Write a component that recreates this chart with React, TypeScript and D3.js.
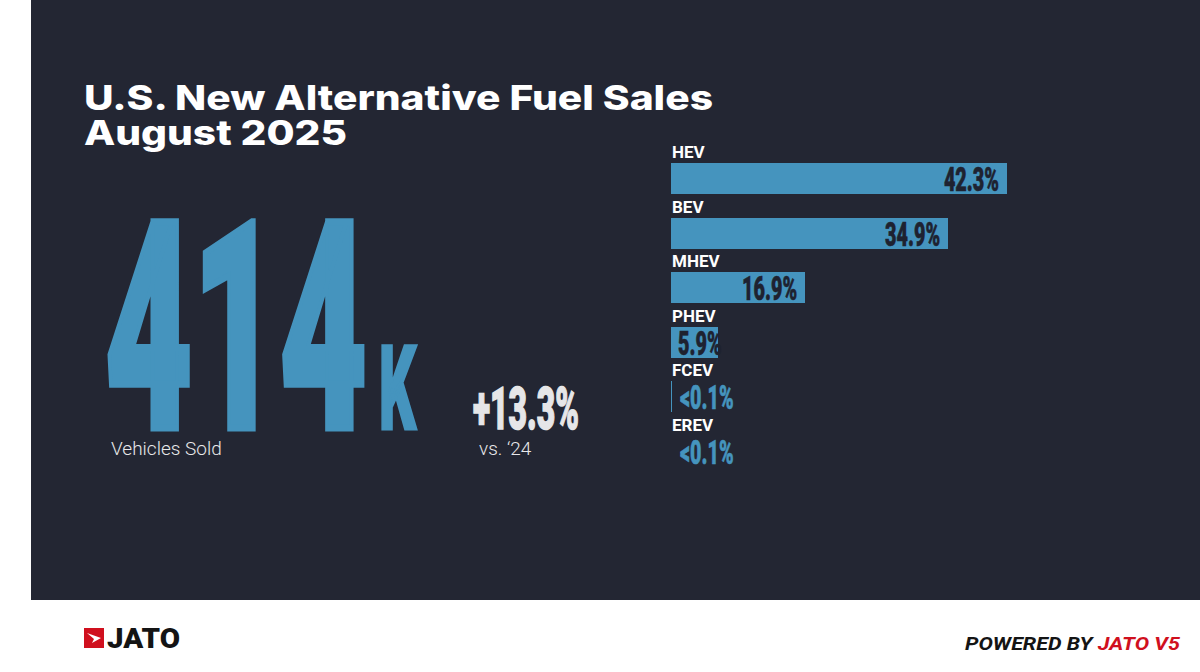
import React from 'react';
import * as d3 from 'd3';

// chart data
const categories = ['HEV', 'BEV', 'MHEV', 'PHEV', 'FCEV', 'EREV'];
const shares = [42.3, 34.9, 16.9, 5.9, 0.09, 0.01];
const shareLabels = ['42.3%', '34.9%', '16.9%', '5.9%', '<0.1%', '<0.1%'];

const totalSold = '414';
const totalUnit = 'K';
const yoyChange = '+13.3%';
const yoyLabel = 'vs. \u201824';
const titleLines = ['U.S. New Alternative Fuel Sales', 'August 2025'];

const W = 1200;
const H = 672;
const PANEL_BG = '#232633';
const BLUE = '#4594be';
const DARK_TEXT = '#1e2230';
const JATO_RED = '#d0101e';
const CONDENSED = 0.6;

const App: React.FC = () => {
  const x = d3.scaleLinear().domain([0, 42.3]).range([0, 336]);
  const y = d3.scaleBand<string>().domain(categories).range([158, 158 + 6 * 54.6]);
  const barX = 671;

  return (
    <div style={{ position: 'absolute', left: 0, top: 0, width: W, height: H, background: '#fff' }}>
      <svg width={W} height={H} viewBox={`0 0 ${W} ${H}`} style={{ display: 'block' }}>
        <rect x={31} y={0} width={W - 31} height={600} fill={PANEL_BG} />

        {/* title */}
        <g fontFamily="Inter, 'Noto Sans', sans-serif" fontWeight={800} fill="#fff" fontSize={34}>
          <text x={84} y={110} textLength={629} lengthAdjust="spacingAndGlyphs">{titleLines[0]}</text>
          <text x={84} y={145} textLength={263} lengthAdjust="spacingAndGlyphs">{titleLines[1]}</text>
        </g>

        {/* headline number, squeezed and thickened to look like a condensed heavy face */}
        <g fontFamily="Roboto, sans-serif" fontWeight={900} strokeLinejoin="miter">
          <text x={105} y={428} fontSize={290} fill={BLUE} stroke={BLUE} strokeWidth={7}
            textLength={262} lengthAdjust="spacingAndGlyphs">{totalSold}</text>
          <text x={379} y={429} fontSize={117} fill={BLUE} stroke={BLUE} strokeWidth={3}
            textLength={37} lengthAdjust="spacingAndGlyphs">{totalUnit}</text>
          <text x={473} y={429} fontSize={59} fill="#e6e6e8" stroke="#e6e6e8" strokeWidth={1.5}
            textLength={106} lengthAdjust="spacingAndGlyphs">{yoyChange}</text>
        </g>
        <g fontFamily="Roboto, sans-serif" fontWeight={300} fill="#e8e8ea" fontSize={19}>
          <text x={111} y={455}>Vehicles Sold</text>
          <text x={479} y={455}>{yoyLabel}</text>
        </g>

        {/* share bars */}
        <g fontFamily="Roboto, sans-serif">
          {categories.map((c, i) => {
            const rowTop = y(c) ?? 0;
            const w = x(shares[i]);
            const by = rowTop + 5;
            const inside = w >= 50;
            const isSmall = shares[i] < 1;
            const tx = inside ? barX + w - 8 : barX + (isSmall ? 9 : 7);
            const col = isSmall ? BLUE : DARK_TEXT;
            return (
              <g key={c}>
                <text x={barX + 1} y={rowTop} fill="#fff" fontWeight={700} fontSize={17}>{c}</text>
                <rect x={barX} y={by} width={w} height={31} fill={BLUE} shapeRendering="crispEdges" />
                <text
                  transform={`translate(${tx},${by + 28}) scale(${CONDENSED},1)`}
                  textAnchor={inside ? 'end' : 'start'}
                  fontWeight={900}
                  fontSize={33}
                  fill={col}
                  stroke={col}
                  strokeWidth={0.6}
                >
                  {shareLabels[i]}
                </text>
              </g>
            );
          })}
        </g>

        {/* footer */}
        <g>
          <rect x={84} y={628} width={20} height={20} fill={JATO_RED} />
          <path d="M87 633 L101 638 L92 643 L94 639 Z" fill="#fff" />
          <text x={107} y={648} fontFamily="Roboto, sans-serif" fontWeight={900} fontSize={28} fill="#141414"
            textLength={73} lengthAdjust="spacingAndGlyphs">JATO</text>
          <text x={965} y={650} fontFamily="Roboto, sans-serif" fontWeight={700} fontStyle="italic" fontSize={19}
            textLength={215} lengthAdjust="spacingAndGlyphs">
            <tspan fill="#141414">POWERED BY </tspan>
            <tspan fill={JATO_RED}>JATO V5</tspan>
          </text>
        </g>
      </svg>
    </div>
  );
};

export default App;
